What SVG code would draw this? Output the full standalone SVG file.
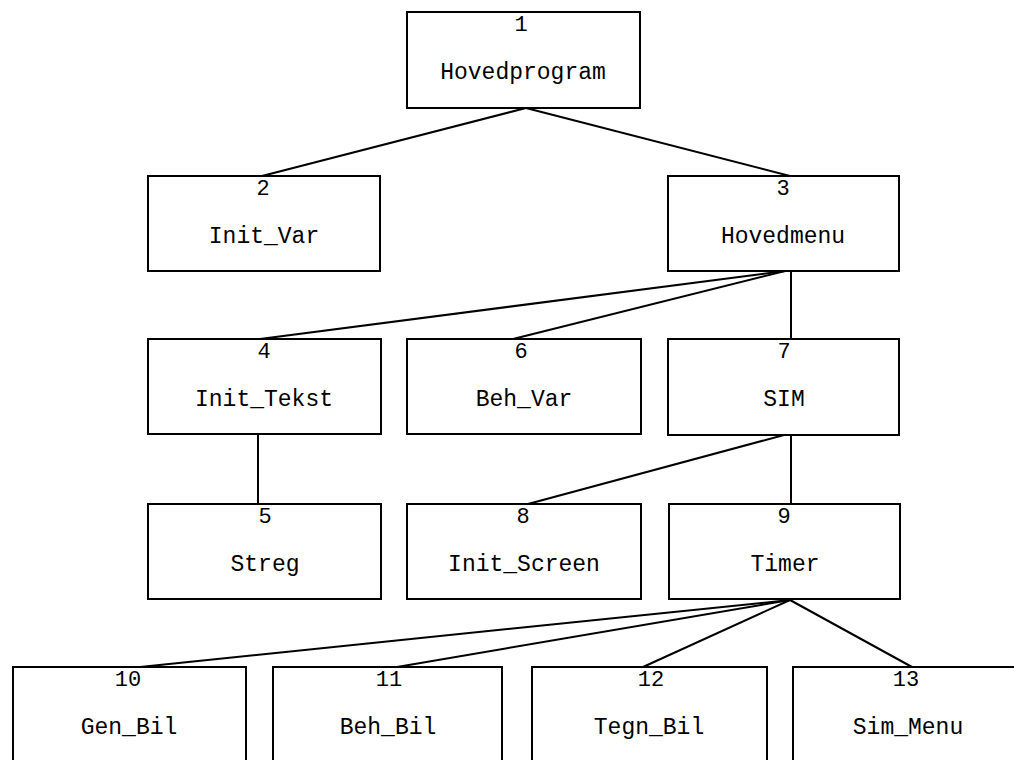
<svg xmlns="http://www.w3.org/2000/svg" width="1014" height="760" viewBox="0 0 1014 760">
<style>
.box{fill:#fff;stroke:#000;stroke-width:2}
.num,.lbl{font-family:"Liberation Mono","Courier New",monospace;font-size:22px;fill:#000;text-anchor:middle}
.lbl{font-size:23px}
#connectors line{stroke:#000;stroke-width:2}
</style>
<rect width="1014" height="760" fill="#fff"/>
<g id="connectors">
<line x1="526" y1="108" x2="262" y2="176"/>
<line x1="526" y1="108" x2="790" y2="176"/>
<line x1="785" y1="271" x2="260" y2="339"/>
<line x1="785" y1="271" x2="513" y2="339"/>
<line x1="791" y1="271" x2="791" y2="339"/>
<line x1="258" y1="434" x2="258" y2="504"/>
<line x1="784" y1="435" x2="528" y2="504"/>
<line x1="791" y1="435" x2="791" y2="504"/>
<line x1="790" y1="600" x2="140" y2="667"/>
<line x1="790" y1="600" x2="397" y2="667"/>
<line x1="790" y1="600" x2="643" y2="667"/>
<line x1="790" y1="600" x2="912" y2="667"/>
</g>
<g id="n1"><rect class="box" x="407" y="12" width="233" height="96"/><text class="num" x="521" y="31">1</text><text class="lbl" x="523" y="79">Hovedprogram</text></g>
<g id="n2"><rect class="box" x="148" y="176" width="232" height="95"/><text class="num" x="263" y="195">2</text><text class="lbl" x="264" y="243">Init_Var</text></g>
<g id="n3"><rect class="box" x="668" y="176" width="231" height="95"/><text class="num" x="783" y="195">3</text><text class="lbl" x="783" y="243">Hovedmenu</text></g>
<g id="n4"><rect class="box" x="148" y="339" width="233" height="95"/><text class="num" x="264" y="358">4</text><text class="lbl" x="264" y="406">Init_Tekst</text></g>
<g id="n6"><rect class="box" x="407" y="339" width="234" height="95"/><text class="num" x="521" y="358">6</text><text class="lbl" x="524" y="406">Beh_Var</text></g>
<g id="n7"><rect class="box" x="668" y="339" width="231" height="96"/><text class="num" x="784" y="358">7</text><text class="lbl" x="784" y="406">SIM</text></g>
<g id="n5"><rect class="box" x="148" y="504" width="233" height="95"/><text class="num" x="265" y="523">5</text><text class="lbl" x="265" y="571">Streg</text></g>
<g id="n8"><rect class="box" x="407" y="504" width="234" height="95"/><text class="num" x="523" y="523">8</text><text class="lbl" x="524" y="571">Init_Screen</text></g>
<g id="n9"><rect class="box" x="669" y="504" width="231" height="95"/><text class="num" x="784" y="523">9</text><text class="lbl" x="785" y="571">Timer</text></g>
<g id="n10"><rect class="box" x="13" y="667" width="233" height="96"/><text class="num" x="128" y="686">10</text><text class="lbl" x="129" y="734">Gen_Bil</text></g>
<g id="n11"><rect class="box" x="273" y="667" width="229" height="96"/><text class="num" x="389" y="686">11</text><text class="lbl" x="388" y="734">Beh_Bil</text></g>
<g id="n12"><rect class="box" x="532" y="667" width="235" height="96"/><text class="num" x="651" y="686">12</text><text class="lbl" x="649" y="734">Tegn_Bil</text></g>
<g id="n13"><rect class="box" x="793" y="667" width="233" height="96"/><text class="num" x="906" y="686">13</text><text class="lbl" x="908" y="734">Sim_Menu</text></g>
</svg>
